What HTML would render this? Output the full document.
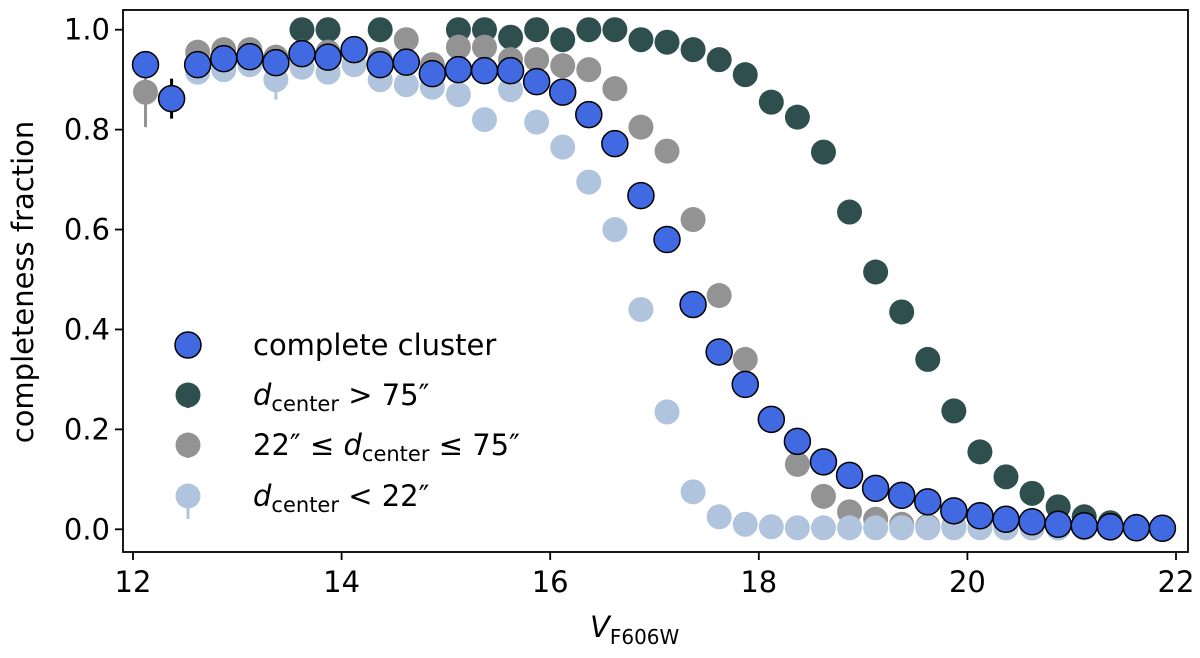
<!DOCTYPE html>
<html><head><meta charset="utf-8"><style>
body{margin:0;background:#fff;}
svg text{font-family:"DejaVu Sans","Liberation Sans",sans-serif;}
</style></head><body>
<svg id="chart" width="1200" height="653" viewBox="0 0 1200 653" xmlns="http://www.w3.org/2000/svg">
<g id="marks"></g>
<g id="axes"></g>
<g id="legend"></g>
</svg>
<script>
const mags = [12.12,12.37,12.62,12.87,13.12,13.37,13.62,13.87,14.12,14.37,14.62,14.87,15.12,15.37,15.62,15.87,16.12,16.37,16.62,16.87,17.12,17.37,17.62,17.87,18.12,18.37,18.62,18.87,19.12,19.37,19.62,19.87,20.12,20.37,20.62,20.87,21.12,21.37,21.62,21.87];
const completeVals = [0.93,0.862,0.93,0.942,0.946,0.934,0.952,0.945,0.96,0.93,0.935,0.912,0.92,0.918,0.918,0.896,0.875,0.83,0.772,0.668,0.58,0.45,0.355,0.29,0.22,0.176,0.135,0.108,0.082,0.068,0.055,0.037,0.027,0.02,0.015,0.01,0.007,0.005,0.003,0.002];
const completeErr = [0.02,0.04,0,0,0,0,0,0,0,0,0,0,0,0,0,0,0,0,0,0,0,0,0,0,0,0,0,0,0,0,0,0,0,0,0,0,0,0,0,0];
const outerVals = [null,null,null,null,null,null,1.0,1.0,null,1.0,null,null,1.0,1.0,0.985,1.0,0.98,1.0,1.0,0.98,0.975,0.96,0.94,0.91,0.855,0.825,0.755,0.635,0.515,0.435,0.34,0.237,0.155,0.105,0.072,0.045,0.025,0.013,0.006,0.003];
const midVals = [0.875,null,0.955,0.96,0.96,0.945,0.955,0.955,0.96,0.94,0.98,0.93,0.965,0.965,0.94,0.94,0.928,0.92,0.882,0.805,0.757,0.62,0.468,0.34,0.22,0.13,0.066,0.035,0.02,0.01,0.006,0.005,0.004,0.003,0.003,0.003,0.003,0.002,0.002,0.002];
const midErr = [0.07,0,0,0,0,0,0,0,0,0,0,0,0,0,0,0,0,0,0,0,0,0,0,0,0,0,0,0,0,0,0,0,0,0,0,0,0,0,0,0];
const innerVals = [null,null,0.915,0.92,0.93,0.9,0.925,0.915,0.93,0.9,0.89,0.885,0.87,0.82,0.88,0.815,0.765,0.695,0.6,0.44,0.235,0.075,0.025,0.01,0.005,0.003,0.003,0.003,0.003,0.003,0.003,0.003,0.003,0.003,0.003,0.003,0.003,0.003,null,null];
const innerErr = [0,0,0.02,0,0,0.04,0,0,0,0,0,0,0,0,0,0,0,0,0,0,0,0,0,0,0,0,0,0,0,0,0,0,0,0,0,0,0,0,0,0];
const xTicks = [12,14,16,18,20,22];
const yTicks = [0.0,0.2,0.4,0.6,0.8,1.0];

const NS="http://www.w3.org/2000/svg";
const L=123,R=1188,T=10,B=552;
function xs(v){return 133+(v-12)*104.3;}
function ys(v){return 529.3-v*499.6;}
function mk(tag,parent){const e=document.createElementNS(NS,tag);parent.appendChild(e);return e;}
const marks=document.getElementById('marks');
function series(vals,errs,color,stroke,r,name){
  const g=mk('g',marks);
  
  
  vals.forEach((v,i)=>{
    if(v===null)return;
    const e=errs?errs[i]:0;
    if(e>0){
      const ln=mk('line',g);
      ln.setAttribute('x1',xs(mags[i]));ln.setAttribute('x2',xs(mags[i]));
      ln.setAttribute('y1',ys(v-e));ln.setAttribute('y2',ys(Math.min(v+e,1.05)));
      ln.setAttribute('stroke',stroke==='none'?color:'#000');ln.setAttribute('stroke-width',3);
      
      
    }
    const c=mk('circle',g);
    c.setAttribute('cx',xs(mags[i]));c.setAttribute('cy',ys(v));c.setAttribute('r',r);
    c.setAttribute('fill',color);
    if(stroke!=='none'){c.setAttribute('stroke',stroke);c.setAttribute('stroke-width',1.5);}
    
    
  });
}
series(outerVals,null,'#2f4f4f','none',12.5,'outer');
series(midVals,midErr,'#939393','none',12.5,'middle');
series(innerVals,innerErr,'#b0c4de','none',12.5,'inner');
series(completeVals,completeErr,'#4169e1','#000',13,'complete');

const axes=document.getElementById('axes');
const fr=mk('rect',axes);
fr.setAttribute('x',L);fr.setAttribute('y',T);fr.setAttribute('width',R-L);fr.setAttribute('height',B-T);
fr.setAttribute('fill','none');fr.setAttribute('stroke','#000');fr.setAttribute('stroke-width',1.8);


xTicks.forEach(t=>{
  const l=mk('line',axes);l.setAttribute('x1',xs(t));l.setAttribute('x2',xs(t));l.setAttribute('y1',B);l.setAttribute('y2',B+8);l.setAttribute('stroke','#000');l.setAttribute('stroke-width',1.8);
  
  
  const tx=mk('text',axes);tx.setAttribute('x',xs(t));tx.setAttribute('y',592);tx.setAttribute('text-anchor','middle');tx.setAttribute('font-size','29');tx.textContent=t;
  
  
});
yTicks.forEach(t=>{
  const l=mk('line',axes);l.setAttribute('x1',L-8);l.setAttribute('x2',L);l.setAttribute('y1',ys(t));l.setAttribute('y2',ys(t));l.setAttribute('stroke','#000');l.setAttribute('stroke-width',1.8);
  
  
  const tx=mk('text',axes);tx.setAttribute('x',L-13);tx.setAttribute('y',ys(t)+10);tx.setAttribute('text-anchor','end');tx.setAttribute('font-size','29');tx.textContent=t.toFixed(1);
  
  
});
</script>
<svg style="position:absolute;left:0;top:0" width="1200" height="653">
<text transform="translate(33,282) rotate(-90)" text-anchor="middle" font-size="29" font-family="DejaVu Sans, Liberation Sans, sans-serif">completeness fraction</text>
<text x="590" y="637" font-size="29" font-family="DejaVu Sans, Liberation Sans, sans-serif"><tspan font-style="italic">V</tspan><tspan font-size="20" dy="7">F606W</tspan></text>
<g>
<circle cx="188" cy="345" r="13" fill="#4169e1" stroke="#000" stroke-width="1.5"/>
<text x="253" y="355" font-size="29" font-family="DejaVu Sans, Liberation Sans, sans-serif">complete cluster</text></g>
<g>
<line x1="188" y1="383" x2="188" y2="408" stroke="#2f4f4f" stroke-width="3"/>
<circle cx="188" cy="395" r="12.5" fill="#2f4f4f"/>
<text x="253" y="405" font-size="29" font-family="DejaVu Sans, Liberation Sans, sans-serif"><tspan font-style="italic">d</tspan><tspan font-size="21" dy="6">center</tspan><tspan dy="-6"> &gt; 75″</tspan></text></g>
<g>
<line x1="188" y1="433" x2="188" y2="458" stroke="#939393" stroke-width="3"/>
<circle cx="188" cy="445" r="12.5" fill="#939393"/>
<text x="253" y="455" font-size="29" font-family="DejaVu Sans, Liberation Sans, sans-serif">22″ ≤ <tspan font-style="italic">d</tspan><tspan font-size="21" dy="6">center</tspan><tspan dy="-6"> ≤ 75″</tspan></text></g>
<g>
<line x1="188" y1="484" x2="188" y2="519" stroke="#b0c4de" stroke-width="3"/>
<circle cx="188" cy="496" r="12.5" fill="#b0c4de"/>
<text x="253" y="506" font-size="29" font-family="DejaVu Sans, Liberation Sans, sans-serif"><tspan font-style="italic">d</tspan><tspan font-size="21" dy="6">center</tspan><tspan dy="-6"> &lt; 22″</tspan></text></g>
</svg>
</body></html>
